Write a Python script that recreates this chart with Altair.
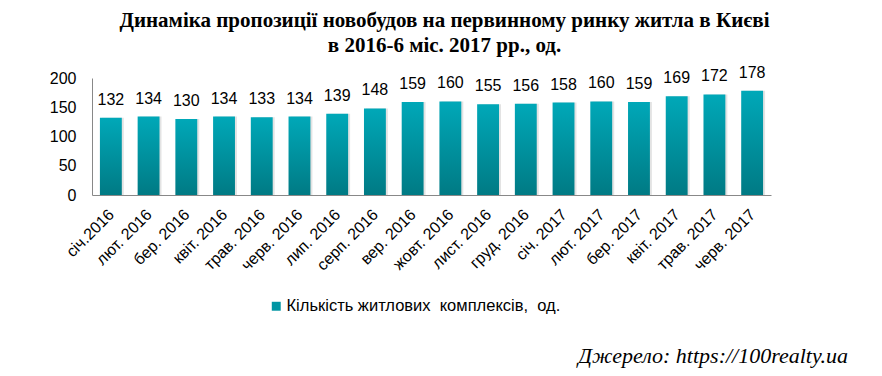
import altair as alt
import pandas as pd

months = ["січ.2016", "лют. 2016", "бер. 2016", "квіт. 2016", "трав. 2016", "черв. 2016",
          "лип. 2016", "серп. 2016", "вер. 2016", "жовт. 2016", "лист. 2016", "груд. 2016",
          "січ. 2017", "лют. 2017", "бер. 2017", "квіт. 2017", "трав. 2017", "черв. 2017"]
values = [132, 134, 130, 134, 133, 134, 139, 148, 159, 160, 155, 156, 158, 160, 159, 169, 172, 178]
series_name = "Кількість житлових\u00a0\u00a0комплексів,\u00a0\u00a0од."
title_lines = ["Динаміка пропозиції новобудов на первинному ринку житла в Києві",
               "в 2016-6 міс. 2017 рр., од."]
source_text = "Джерело: https://100realty.ua"

df = pd.DataFrame({"month": months, "value": values, "series": series_name})

grad = alt.Gradient(gradient="linear", x1=0, x2=0, y1=0, y2=1,
                    stops=[alt.GradientStop(color="#00A8B8", offset=0),
                           alt.GradientStop(color="#007A84", offset=1)])

x_enc = alt.X("month:N", sort=months, title=None,
              scale=alt.Scale(paddingInner=0.42, paddingOuter=0.21),
              axis=alt.Axis(labelAngle=-45, labelFontSize=16, labelFont="Liberation Sans",
                            labelColor="#000", ticks=False, domainColor="#888",
                            labelPadding=11, labelOffset=-5, labelLimit=200))
y_enc = alt.Y("value:Q", title=None,
              scale=alt.Scale(domain=[0, 200]),
              axis=alt.Axis(values=[0, 50, 100, 150, 200], labelFontSize=16,
                            labelFont="Liberation Sans", labelColor="#000",
                            ticks=False, grid=False, domainColor="#888", labelPadding=16))

base = alt.Chart(df)

shadow = base.mark_bar(color="#dcdcdc", xOffset=2, opacity=0.8).encode(x=x_enc, y=y_enc)
bars = base.mark_bar(color=grad).encode(x=x_enc, y=y_enc)
labels = base.mark_text(baseline="bottom", dy=-10, fontSize=16, font="Liberation Sans",
                        color="#000").encode(x=x_enc, y=y_enc, text="value:Q")

legend_layer = base.mark_square(size=0).encode(
    color=alt.Color("series:N", scale=alt.Scale(domain=[series_name], range=["#0095A3"]),
                    legend=alt.Legend(title=None, orient="none", legendX=176, legendY=220,
                                      labelFontSize=16.5, labelFont="Liberation Sans",
                                      labelColor="#000", symbolType="square", symbolSize=80,
                                      symbolOpacity=1, symbolOffset=0, labelOffset=2,
                                      labelLimit=500))
)

src_df = pd.DataFrame({"t": [source_text]})
source = alt.Chart(src_df).mark_text(align="right", baseline="alphabetic", fontSize=22,
                                     font="Liberation Serif", fontStyle="italic",
                                     color="#000").encode(
    text="t:N", x=alt.value(756), y=alt.value(285))

chart = alt.layer(shadow, bars, labels, legend_layer, source).properties(
    width=679, height=117,
    title=alt.TitleParams(title_lines, font="Liberation Serif", fontSize=21, fontWeight="bold",
                          color="#000", anchor="middle", offset=9, dx=13, lineHeight=25),
    autosize=alt.AutoSizeParams(type="none"),
    padding={"left": 84, "top": 70, "right": 103, "bottom": 180},
).configure_view(stroke=None).configure_axisX(domain=True).configure_axisY(domain=True)

chart.save("out.html", embed_options={"renderer": "svg", "actions": False})
